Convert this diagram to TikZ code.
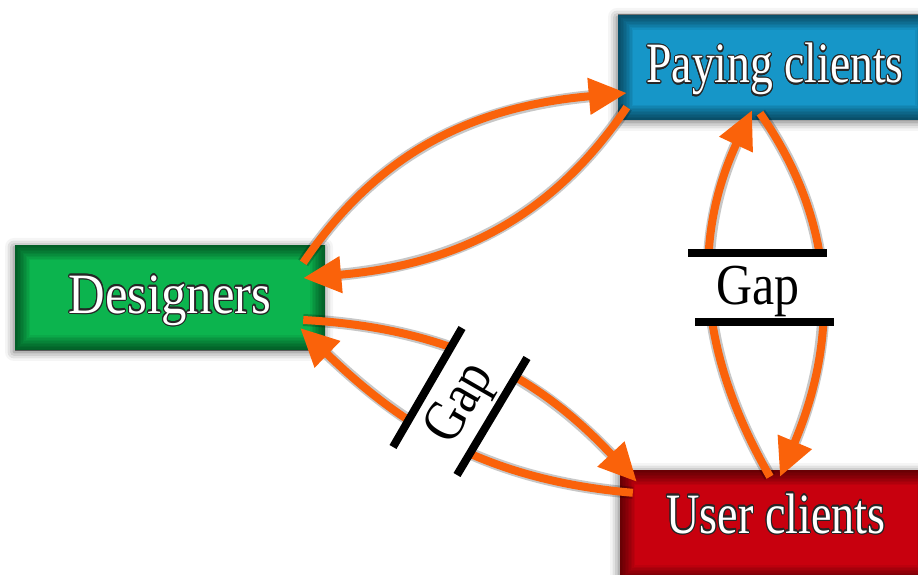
\documentclass[tikz,border=0pt]{standalone}
\usepackage{fontspec}
\setmainfont{Liberation Serif}
\usepackage{graphicx}
\usepackage{contour}
\contourlength{1.3pt}
\usetikzlibrary{arrows.meta,shadows.blur}
\definecolor{arrorange}{RGB}{250,98,10}
\definecolor{dgreen}{RGB}{12,180,78}
\definecolor{dblue}{RGB}{22,150,200}
\definecolor{dred}{RGB}{200,0,14}
\tikzset{
 box/.style={draw=none, minimum height=105pt, inner sep=0pt,
   blur shadow={shadow xshift=-1pt, shadow yshift=-2pt, shadow blur radius=9pt, shadow opacity=60},
   path picture={\foreach \i in {1,...,10}{\draw[black,opacity=0.06,line width=3*\i pt]
     (path picture bounding box.south west) rectangle (path picture bounding box.north east);}}},
 lbl/.style={anchor=base, inner sep=0pt, font=\fontsize{57}{60}\selectfont, text=white},
 arr/.style={draw=arrorange, line width=8pt, -{Triangle[length=38pt,width=35pt]},
   preaction={draw=black, opacity=0.22, line width=12pt, -, shorten >=30pt}},
 gapbar/.style={line width=8pt, black},
 gaplbl/.style={font=\fontsize{58}{60}\selectfont, inner sep=0pt, text=black}
}
\begin{document}
\begin{tikzpicture}[x=1pt,y=1pt]
\useasboundingbox (0,0) rectangle (918,574);
% boxes
\node[box, fill=dgreen, minimum width=310pt] (des) at (170,276.5) {};
\node[box, fill=dblue, minimum width=312pt] (pay) at (774,506.5) {};
\node[box, fill=dred, minimum width=312pt, minimum height=110pt] (user) at (776,49) {};
% arrows
\draw[arr] ([shift={(-22pt,-18pt)}]des.north east) to[out=56,in=185] ([shift={(9pt,-25.5pt)}]pay.west);
\draw[arr] ([shift={(9pt,13pt)}]pay.south west) to[out=236,in=5] ([shift={(-22pt,19.5pt)}]des.east);
\draw[arr] ([shift={(-22pt,-22.5pt)}]des.east) to[out=-3,in=133] ([shift={(17pt,-12pt)}]user.north west);
\draw[arr] ([shift={(13pt,-23pt)}]user.north west) to[out=175,in=316] ([shift={(-25pt,-30.5pt)}]des.east);
\draw[arr] ([shift={(-6pt,-7pt)}]user.north) to[out=120,in=245] ([shift={(-22pt,10pt)}]pay.south);
\draw[arr] ([shift={(-14pt,7pt)}]pay.south) to[out=-55,in=67] ([shift={(4pt,-7pt)}]user.north);
% labels
\node[lbl] (destext) at (170,261) {\scalebox{0.89}[1]{\contour{black!85}{Designers}}};
\node[lbl] (paytext) at (775,491) {\scalebox{0.80}[1]{\contour{black!85}{Paying clients}}};
\node[lbl] (usertext) at (776,41) {\scalebox{0.81}[1]{\contour{black!85}{User clients}}};
% gap right
\fill[white] (688,321) -- (827,321) -- (834,252) -- (695,252) -- cycle;
\draw[gapbar] (688,321) -- (827,321);
\draw[gapbar] (695,252) -- (834,252);
\node[gaplbl, anchor=base] (gapr) at (758,270) {\scalebox{0.86}[1]{Gap}};
% gap left
\fill[white] (393,127) -- (462,246) -- (527,216) -- (457,99) -- cycle;
\draw[gapbar] (393,127) -- (462,246);
\draw[gapbar] (457,99) -- (527,216);
\node[gaplbl, rotate=60] (gapl) at (462,170) {\scalebox{0.86}[1]{Gap}};
\end{tikzpicture}
\end{document}
